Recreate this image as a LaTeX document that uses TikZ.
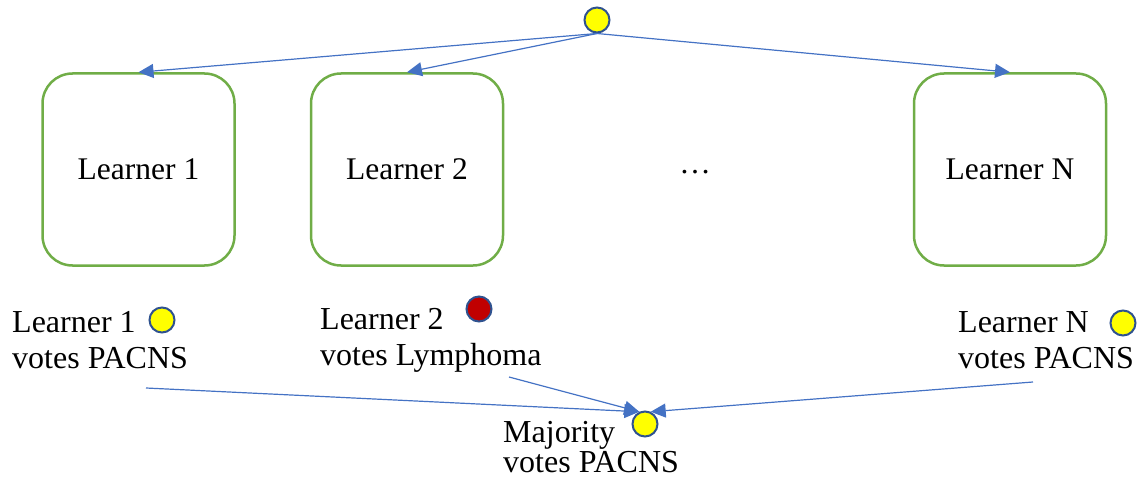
\documentclass[tikz,border=0pt]{standalone}
\usepackage{fontspec}
\setmainfont{Liberation Serif}
\usetikzlibrary{arrows.meta}
\definecolor{lineblue}{HTML}{4472C4}
\definecolor{boxgreen}{HTML}{70AD47}
\definecolor{ringblue}{HTML}{2F528F}
\definecolor{voteyellow}{HTML}{FFFF00}
\definecolor{votered}{HTML}{C00000}

\begin{document}
\begin{tikzpicture}[x=1pt,y=-1pt,
  learner/.style={draw=boxgreen, line width=2.5pt, rounded corners=30pt,
    minimum width=192pt, minimum height=192pt, font=\fontsize{31.5}{36}\selectfont},
  vote/.style={circle, draw=ringblue, line width=2pt, minimum size=25pt, inner sep=0pt},
  votetext/.style={anchor=base west, align=left, inner sep=0pt},
  arr/.style={lineblue, line width=1.2pt, -{Triangle[length=15pt,width=14pt]}}]
\useasboundingbox (0,0) rectangle (1143,484);

% the sample to classify
\node [vote, fill=voteyellow] (src) at (597,20) {};

% learners
\node [learner] (l1) at (138.5,169.5) {Learner 1};
\node [learner] (l2) at (407,169.5) {Learner 2};
\node [learner] (lN) at (1010,169.5) {Learner N};
\node [font=\fontsize{31.5}{36}\selectfont] (dots) at (695,172) {\ldots};

\foreach \l in {l1,l2,lN}
{
       \draw [arr] (src.south) -- (\l.north);
}

% votes (base = last line)
\node [votetext, font=\fontsize{32}{36}\selectfont] (t1) at (12,368) {Learner 1\\votes PACNS};
\node [votetext, font=\fontsize{32}{36}\selectfont] (t2) at (320,365) {Learner 2\\votes Lymphoma};
\node [votetext, font=\fontsize{32}{36}\selectfont] (tN) at (958,368) {Learner N\\votes PACNS};
\node [vote, fill=voteyellow] (v1) at (162,320) {};
\node [vote, fill=votered] (v2) at (479,309) {};
\node [vote, fill=voteyellow] (vN) at (1123,323) {};

% majority
\node [votetext, font=\fontsize{32}{30}\selectfont] (tm) at (503,472) {Majority\\votes PACNS};
\node [vote, fill=voteyellow] (maj) at (645,424) {};

\coordinate (c1) at (146,388);
\coordinate (c2) at (509,377);
\coordinate (cN) at (1033,382);
\draw [arr] (c1) -- (maj.115);
\draw [arr] (c2) -- (maj.115);
\draw [arr] (cN) -- (maj.65);

\end{tikzpicture}
\end{document}
